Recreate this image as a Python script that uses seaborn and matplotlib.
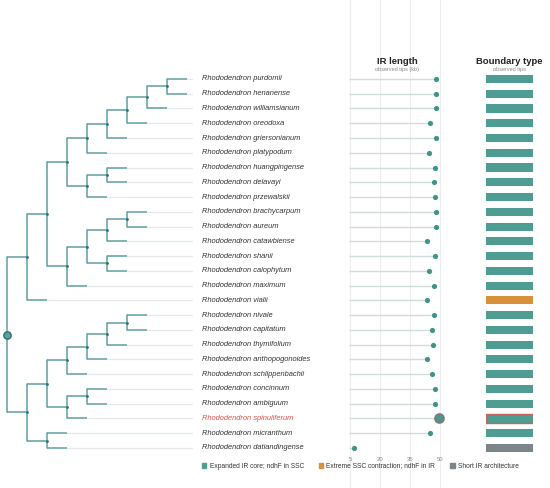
import matplotlib.pyplot as plt
import seaborn as sns
import numpy as np
import pandas as pd
from matplotlib.patches import Patch

sns.set_style('white')
plt.rcParams['font.family'] = ['Liberation Sans', 'DejaVu Sans']

# tips, top to bottom
species = ['purdomii', 'henanense', 'williamsianum', 'oreodoxa', 'griersonianum',
           'platypodum', 'huangpingense', 'delavayi', 'przewalskii', 'brachycarpum',
           'aureum', 'catawbiense', 'shanii', 'calophytum', 'maximum', 'vialii',
           'nivale', 'capitatum', 'thymifolium', 'anthopogonoides', 'schlippenbachii',
           'concinnum', 'ambiguum', 'spinuliferum', 'micranthum', 'datiandingense']

ir_kb = [47.8, 47.8, 47.8, 44.8, 47.8, 44.7, 47.3, 47.2, 47.7, 48.0,
         48.0, 43.7, 47.5, 44.7, 47.2, 43.7, 47.2, 46.2, 46.3, 43.7,
         46.0, 47.4, 47.5, 49.7, 44.8, 7.0]

boundary = ['Expanded IR core; ndhF in SSC'] * 15 + \
           ['Extreme SSC contraction; ndhF in IR'] + \
           ['Expanded IR core; ndhF in SSC'] * 9 + \
           ['Short IR architecture']

highlight = 'spinuliferum'

newick = ("(((((((((purdomii,henanense),williamsianum),oreodoxa),griersonianum),platypodum),"
          "((huangpingense,delavayi),przewalskii)),((((brachycarpum,aureum),catawbiense),"
          "(shanii,calophytum)),maximum)),vialii),((((((nivale,capitatum),thymifolium),"
          "anthopogonoides),schlippenbachii),((concinnum,ambiguum),spinuliferum)),"
          "(micranthum,datiandingense)))")

ir_ticks = [5, 20, 35, 50]

pal = {'Expanded IR core; ndhF in SSC': '#4f9d92',
       'Extreme SSC contraction; ndhF in IR': '#d9903a',
       'Short IR architecture': '#7b8489'}

tree_col = '#5f9ea0'
node_col = '#2f6e72'


def parse(s, i=0):
    if s[i] == '(':
        kids = []
        i += 1
        while True:
            node, i = parse(s, i)
            kids.append(node)
            if s[i] == ',':
                i += 1
            else:
                i += 1
                break
        return kids, i
    j = i
    while s[j] not in ',()':
        j += 1
    return s[i:j], j


tree, _ = parse(newick)
row = {sp: i for i, sp in enumerate(species)}

df = pd.DataFrame({'species': species, 'row': np.arange(len(species)),
                   'ir': ir_kb, 'boundary': boundary, 'one': 1.0})

fig = plt.figure(figsize=(5.5, 4.88), dpi=100)
ylim = (27.71, -5.35)

# ---- tree ----
axt = fig.add_axes([0, 0, 200 / 550, 1])
axt.set_xlim(-0.35, 9.65)
axt.set_ylim(*ylim)
axt.axis('off')

tips_depth = {}


def draw(node, depth):
    if isinstance(node, str):
        tips_depth[node] = depth
        return row[node]
    ys = [draw(k, depth + 1) for k in node]
    for y in ys:
        axt.plot([depth, depth + 1], [y, y], color=tree_col, lw=1.1, solid_capstyle='butt', zorder=2)
    axt.plot([depth, depth], [min(ys), max(ys)], color=tree_col, lw=1.1, zorder=2)
    y0 = np.mean(ys)
    if depth == 0:
        axt.scatter([depth], [y0], s=28, color=tree_col, edgecolor=node_col, lw=1.0, zorder=4)
    else:
        axt.scatter([depth], [y0], s=4, color=node_col, lw=0, zorder=4)
    return y0


draw(tree, 0)

for sp in species:
    r = row[sp]
    axt.plot([tips_depth[sp], 9.25], [r, r], color='#e4e8e8', lw=0.9, zorder=1)
    axt.text(9.75, r, 'Rhododendron ' + sp, style='italic', fontsize=5.4,
             color='#d9534f' if sp == highlight else '#333333',
             ha='left', va='center', clip_on=False)

# ---- IR length lollipops ----
axd = fig.add_axes([340 / 550, 0, 110 / 550, 1])
for v in ir_ticks:
    axd.axvline(v, color='#ededed', lw=0.8, zorder=0)
    axd.text(v, 25.8, str(v), ha='center', va='center', fontsize=4.3, color='#888888')
axd.hlines(df['row'], 4.6, df['ir'], color='#d3dcdc', lw=1.0, zorder=1)
normal = df[df['species'] != highlight]
sns.scatterplot(data=normal, x='ir', y='row', color='#3f9488', s=14, linewidth=0,
                zorder=3, ax=axd, legend=False)
hl = df[df['species'] == highlight]
sns.scatterplot(data=hl, x='ir', y='row', color='#4f9488', s=42, edgecolor='#7a7a7a',
                linewidth=1.2, zorder=3, ax=axd, legend=False)
axd.set_xlim(0, 55)
axd.set_ylim(*ylim)
axd.axis('off')
axd.text(28.5, -1.2, 'IR length', ha='center', va='center', fontsize=6.8,
         fontweight='bold', color='#222222')
axd.text(28.5, -0.62, 'observed tips (kb)', ha='center', va='center', fontsize=4,
         color='#888888')

# ---- boundary type tiles ----
axb = fig.add_axes([485.7 / 550, 0, 47.6 / 550, 1])
sns.barplot(data=df, x='one', y='species', hue='boundary', palette=pal, orient='h',
            width=0.55, dodge=False, legend=False, ax=axb, linewidth=0, saturation=1)
axb.barh(row[highlight], 1, height=0.55, fill=False, edgecolor='#c9625f', lw=1.0, zorder=5)
axb.set_xlim(0, 1)
axb.set_ylim(*ylim)
axb.axis('off')
axb.text(0.5, -1.2, 'Boundary type', ha='center', va='center', fontsize=6.8,
         fontweight='bold', color='#222222')
axb.text(0.5, -0.62, 'observed tips', ha='center', va='center', fontsize=4,
         color='#888888')

handles = [Patch(color=pal[k], label=k) for k in pal]
fig.legend(handles=handles, loc='center', bbox_to_anchor=(0.655, 1 - 466 / 488), ncol=3,
           frameon=False, fontsize=4.8, handlelength=0.7, handleheight=0.7,
           handletextpad=0.5, columnspacing=2.2, labelcolor='#333333')

fig.savefig('out.png', dpi=100)
